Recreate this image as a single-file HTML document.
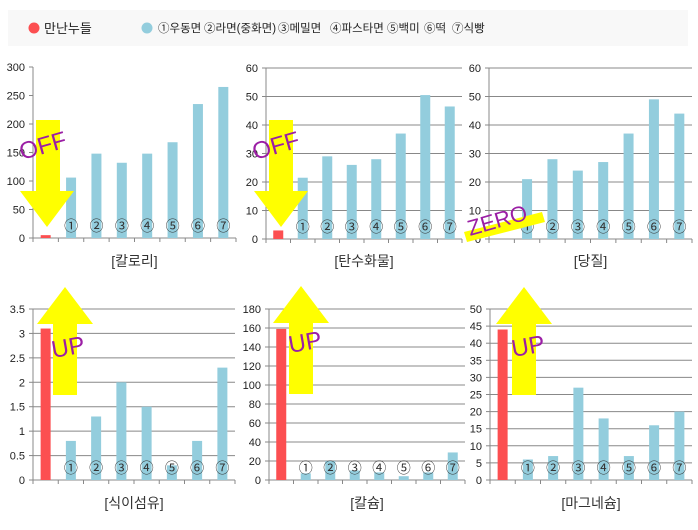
<!DOCTYPE html>
<html><head><meta charset="utf-8"><style>
body{margin:0;background:#fff;width:698px;height:530px;overflow:hidden}
svg{display:block;font-family:"Liberation Sans","Noto Sans CJK KR",sans-serif}
</style></head><body>
<svg id="s" width="698" height="530" xmlns="http://www.w3.org/2000/svg">
<rect x="8" y="10" width="680" height="36" fill="#f8f8f8"/>
<circle cx="34" cy="28" r="5.5" fill="#fc4f51"/>
<text x="44" y="33" font-size="13" fill="#222">만난누들</text>
<circle cx="147" cy="28" r="5.5" fill="#93cddd"/>
<g font-size="11.5" fill="#222">
<text x="158" y="32">①우동면</text>
<text x="204" y="32">②라면(중화면)</text>
<text x="278" y="32">③메밀면</text>
<text x="330" y="32">④파스타면</text>
<text x="387" y="32">⑤백미</text>
<text x="424" y="32">⑥떡</text>
<text x="452" y="32">⑦식빵</text>
</g>
</svg>
<script>
const NS="http://www.w3.org/2000/svg",s=document.getElementById('s');
function el(t,a,txt){const e=document.createElementNS(NS,t);for(const k in a)e.setAttribute(k,a[k]);if(txt!==undefined)e.textContent=txt;s.appendChild(e);return e;}
const charts=[
{x0:33,x1:236,y0:67,y1:238,max:300,step:50,grid:false,lab:"[칼로리]",ly:266,v:[5,106,148,132,148,168,235,265]},
{x0:266,x1:462,y0:68,y1:239,max:60,step:10,grid:true,lab:"[탄수화물]",ly:266,v:[3,21.5,29,26,28,37,50.5,46.5]},
{x0:489,x1:692,y0:68,y1:239,max:60,step:10,grid:true,lab:"[당질]",ly:266,v:[0,21,28,24,27,37,49,44]},
{x0:33,x1:235,y0:309,y1:480,max:3.5,step:0.5,grid:true,lab:"[식이섬유]",ly:508,v:[3.1,0.8,1.3,2,1.5,0.3,0.8,2.3]},
{x0:269,x1:465,y0:309,y1:480,max:180,step:20,grid:true,lab:"[칼슘]",ly:508,v:[159,7,20,10,8,4,8,29]},
{x0:490,x1:692,y0:309,y1:480,max:50,step:5,grid:true,lab:"[마그네슘]",ly:508,v:[44,6,7,27,18,7,16,20]}];
const circ="①②③④⑤⑥⑦";
charts.forEach(c=>{
 const h=c.y1-c.y0,w=(c.x1-c.x0)/8;
 for(let t=0;t<=c.max+1e-9;t+=c.step){
  const y=c.y1-t/c.max*h;
  if(c.grid&&t>0)el('line',{x1:c.x0,x2:c.x1,y1:y,y2:y,stroke:'#888','stroke-width':1});
  el('line',{x1:c.x0-4,x2:c.x0,y1:y,y2:y,stroke:'#888'});
  el('text',{x:c.x0-8,y:y+4,'font-size':11,'text-anchor':'end',fill:'#222'},(Math.round(t*10)/10).toString());
 }
 el('line',{x1:c.x0,x2:c.x0,y1:c.y0,y2:c.y1,stroke:'#888'});
 el('line',{x1:c.x0,x2:c.x1,y1:c.y1,y2:c.y1,stroke:'#888'});
 for(let i=0;i<=8;i++){const x=c.x0+i*w;el('line',{x1:x,x2:x,y1:c.y1,y2:c.y1+4,stroke:'#888'});}
 c.v.forEach((v,i)=>{const bh=v/c.max*h,cx=c.x0+(i+0.5)*w;
  if(bh>0)el('rect',{x:cx-5,y:c.y1-bh,width:10,height:bh,fill:i?'#93cddd':'#fc4f51'});
  if(i>0)el('text',{x:cx,y:c.y1-7,'font-size':14,'text-anchor':'middle',fill:'#333'},circ[i-1]);
 });
 el('text',{x:(c.x0+c.x1)/2,y:c.ly,'font-size':14,'text-anchor':'middle',fill:'#333'},c.lab);
});
const Y='#ffff00',P='#9b1fa5';
function down(sx,tx){el('rect',{x:sx,y:120,width:24,height:72,fill:Y});el('polygon',{points:`${tx-27},191 ${tx+27},191 ${tx},227`,fill:Y});}
function up(sx,tx,ty){el('rect',{x:sx,y:ty+37,width:24,height:71,fill:Y});el('polygon',{points:`${tx-28},${ty+37} ${tx+28},${ty+37} ${tx},${ty}`,fill:Y});}
down(36,47);down(269,281);
up(53,65,287);up(289,301,286);up(512,524,287);
el('text',{x:22,y:160,'font-size':24,fill:P,transform:'rotate(-16 22 160)'},'OFF');
el('text',{x:255,y:160,'font-size':24,fill:P,transform:'rotate(-16 255 160)'},'OFF');
el('polygon',{points:'464,232 542,212 545,222 467,242',fill:Y});
el('text',{x:470,y:236,'font-size':22,fill:P,transform:'rotate(-16 470 236)'},'ZERO');
el('text',{x:53,y:358,'font-size':24,fill:P,transform:'rotate(-10 53 358)'},'UP');
el('text',{x:290,y:353,'font-size':24,fill:P,transform:'rotate(-10 290 353)'},'UP');
el('text',{x:513,y:357,'font-size':24,fill:P,transform:'rotate(-10 513 357)'},'UP');
</script>
</body></html>
